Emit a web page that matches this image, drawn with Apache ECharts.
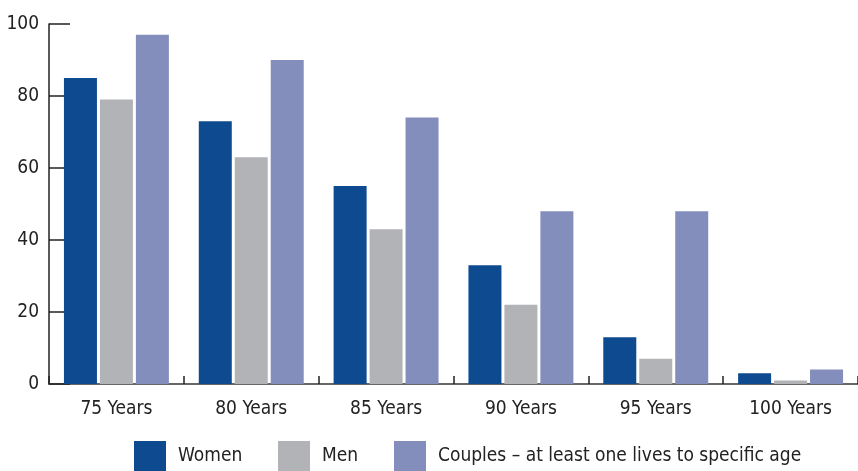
<!DOCTYPE html>
<html><head><meta charset="utf-8">
<script src="https://cdn.jsdelivr.net/npm/echarts@6/dist/echarts.min.js"></script>
<style>html,body{margin:0;padding:0;background:#fff}#c{width:858px;height:471px}</style>
</head><body><div id="c"></div>
<script>
const categories = ['75 Years','80 Years','85 Years','90 Years','95 Years','100 Years'];
const seriesNames = ['Women','Men','Couples – at least one lives to specific age'];
const women = [85, 73, 55, 33, 13, 3];
const men = [79, 63, 43, 22, 7, 1];
const couples = [97, 90, 74, 48, 48, 4];
const yTicks = [0, 20, 40, 60, 80, 100];
const FONT = '"DejaVu Sans Condensed", sans-serif';
const legendLefts = [134, 278, 394];
const chart = echarts.init(document.getElementById('c'));
chart.setOption({
  animation: false,
  textStyle: {fontFamily: FONT},
  grid: {left: 49, right: 0, top: 24, bottom: 87, containLabel: false},
  legend: seriesNames.map((n, i) => ({
    left: legendLefts[i], top: 441, padding: 0, itemWidth: 32, itemHeight: 30,
    icon: 'rect',
    textStyle: {fontFamily: FONT, fontSize: 19, color: '#222', padding: [6,0,0,7]},
    data: [n]
  })),
  xAxis: {
    type: 'category', data: categories,
    axisLine: {lineStyle: {color: '#666', width: 2}},
    axisTick: {show: true, inside: true, length: 8, lineStyle: {color: '#222', width: 1.5}},
    axisLabel: {fontFamily: FONT, fontSize: 19, color: '#222', margin: 16}
  },
  yAxis: {
    type: 'value', min: yTicks[0], max: yTicks[yTicks.length-1], interval: 20,
    axisLine: {show: true, lineStyle: {color: '#222', width: 1.5}},
    axisTick: {show: true, inside: true, length: 21, lineStyle: {color: '#222', width: 1.5}},
    axisLabel: {fontFamily: FONT, fontSize: 19, color: '#222', margin: 10},
    splitLine: {show: false}
  },
  series: [
    {name: seriesNames[0], type: 'bar', data: women, barWidth: 33, barGap: '9%', itemStyle: {color: '#0e4a8f'}},
    {name: seriesNames[1], type: 'bar', data: men, barWidth: 33, barGap: '9%', itemStyle: {color: '#b2b3b6'}},
    {name: seriesNames[2], type: 'bar', data: couples, barWidth: 33, barGap: '9%', itemStyle: {color: '#838ebd'}}
  ]
});
</script></body></html>
